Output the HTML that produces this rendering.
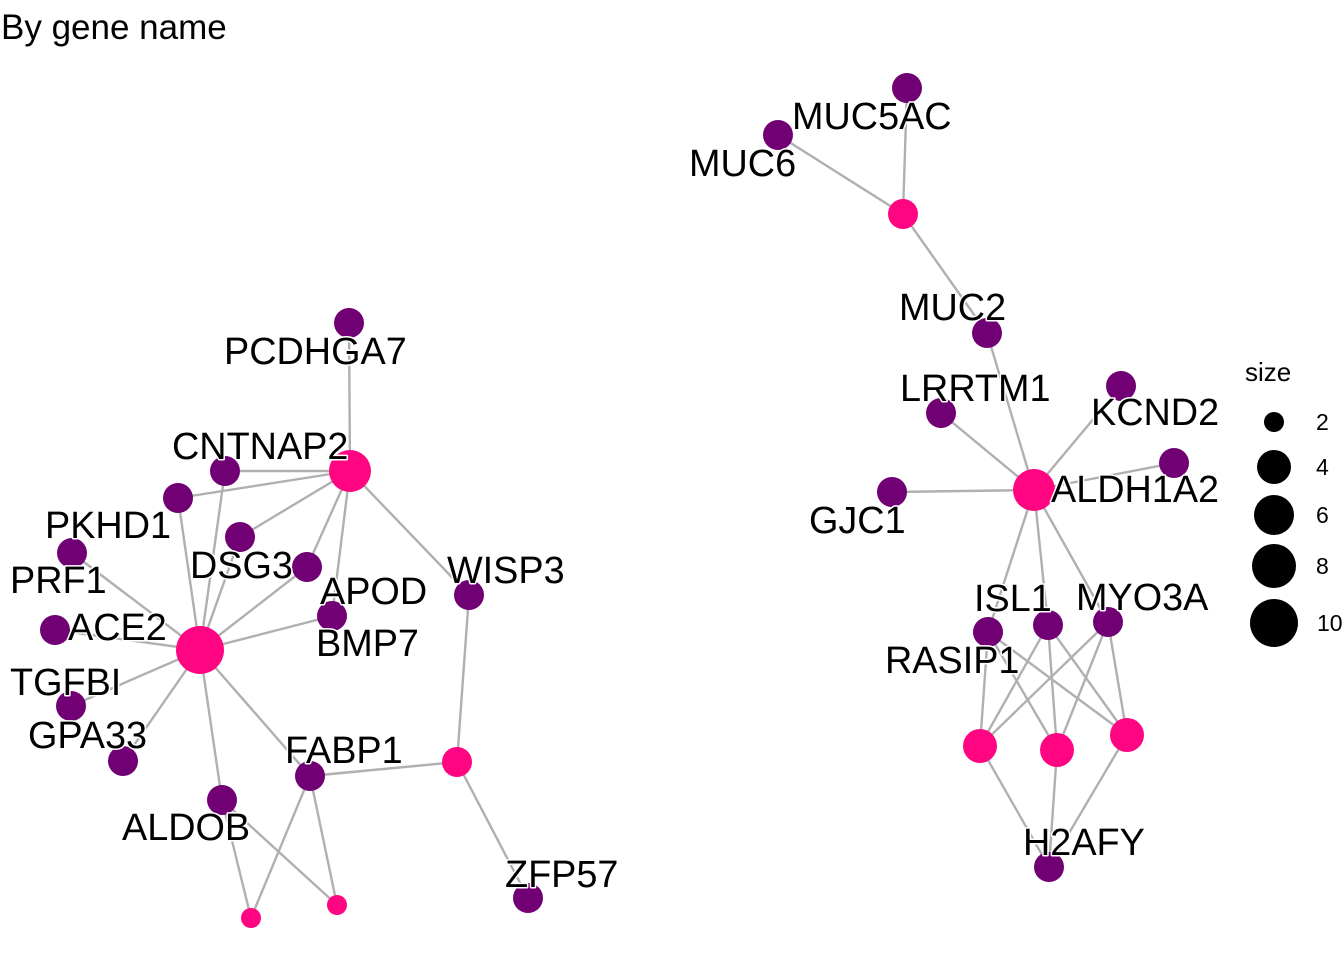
<!DOCTYPE html>
<html><head><meta charset="utf-8"><style>
html,body{margin:0;padding:0;background:#fff;}
svg{display:block;}
text{font-family:"Liberation Sans",Arial,sans-serif;}
.l{font-size:37.8px;fill:#000;stroke:#fff;stroke-width:3px;paint-order:stroke;stroke-linejoin:round;}
</style></head><body>
<svg width="1344" height="960" viewBox="0 0 1344 960" xmlns="http://www.w3.org/2000/svg">
<text x="1" y="39" font-size="35">By gene name</text>
<g stroke="#b0b0b0" stroke-width="2.4" fill="none">
<line x1="350" y1="471" x2="349" y2="323"/>
<line x1="350" y1="471" x2="225" y2="471"/>
<line x1="350" y1="471" x2="178" y2="498"/>
<line x1="350" y1="471" x2="240" y2="537"/>
<line x1="350" y1="471" x2="307" y2="567"/>
<line x1="350" y1="471" x2="332" y2="616"/>
<line x1="350" y1="471" x2="469" y2="595"/>
<line x1="200" y1="650" x2="178" y2="498"/>
<line x1="200" y1="650" x2="225" y2="471"/>
<line x1="200" y1="650" x2="240" y2="537"/>
<line x1="200" y1="650" x2="307" y2="567"/>
<line x1="200" y1="650" x2="332" y2="616"/>
<line x1="200" y1="650" x2="72" y2="553"/>
<line x1="200" y1="650" x2="55" y2="630"/>
<line x1="200" y1="650" x2="71" y2="706"/>
<line x1="200" y1="650" x2="123" y2="761"/>
<line x1="200" y1="650" x2="222" y2="800"/>
<line x1="200" y1="650" x2="310" y2="776"/>
<line x1="310" y1="776" x2="457" y2="762"/>
<line x1="457" y1="762" x2="469" y2="595"/>
<line x1="457" y1="762" x2="528" y2="898"/>
<line x1="310" y1="776" x2="251" y2="918"/>
<line x1="310" y1="776" x2="337" y2="905"/>
<line x1="222" y1="800" x2="251" y2="918"/>
<line x1="222" y1="800" x2="337" y2="905"/>
<line x1="903" y1="214" x2="907" y2="88"/>
<line x1="903" y1="214" x2="778" y2="135"/>
<line x1="903" y1="214" x2="987" y2="333"/>
<line x1="1034" y1="490" x2="987" y2="333"/>
<line x1="1034" y1="490" x2="941" y2="413"/>
<line x1="1034" y1="490" x2="1121" y2="386"/>
<line x1="1034" y1="490" x2="1174" y2="463"/>
<line x1="1034" y1="490" x2="892" y2="492"/>
<line x1="1034" y1="490" x2="988" y2="632"/>
<line x1="1034" y1="490" x2="1048" y2="625"/>
<line x1="1034" y1="490" x2="1108" y2="622"/>
<line x1="988" y1="632" x2="980" y2="746"/>
<line x1="988" y1="632" x2="1057" y2="750"/>
<line x1="988" y1="632" x2="1127" y2="735"/>
<line x1="1048" y1="625" x2="980" y2="746"/>
<line x1="1048" y1="625" x2="1057" y2="750"/>
<line x1="1048" y1="625" x2="1127" y2="735"/>
<line x1="1108" y1="622" x2="980" y2="746"/>
<line x1="1108" y1="622" x2="1057" y2="750"/>
<line x1="1108" y1="622" x2="1127" y2="735"/>
<line x1="1049" y1="867" x2="980" y2="746"/>
<line x1="1049" y1="867" x2="1057" y2="750"/>
<line x1="1049" y1="867" x2="1127" y2="735"/>
</g>
<g fill="#710074">
<circle cx="349" cy="323" r="15"/>
<circle cx="225" cy="471" r="15"/>
<circle cx="178" cy="498" r="15"/>
<circle cx="240" cy="537" r="15"/>
<circle cx="307" cy="567" r="15"/>
<circle cx="332" cy="616" r="15"/>
<circle cx="72" cy="553" r="15"/>
<circle cx="55" cy="630" r="15"/>
<circle cx="71" cy="706" r="15"/>
<circle cx="123" cy="761" r="15"/>
<circle cx="222" cy="800" r="15"/>
<circle cx="310" cy="776" r="15"/>
<circle cx="469" cy="595" r="15"/>
<circle cx="528" cy="898" r="15"/>
<circle cx="907" cy="88" r="15"/>
<circle cx="778" cy="135" r="15"/>
<circle cx="987" cy="333" r="15"/>
<circle cx="941" cy="413" r="15"/>
<circle cx="1121" cy="386" r="15"/>
<circle cx="1174" cy="463" r="15"/>
<circle cx="892" cy="492" r="15"/>
<circle cx="988" cy="632" r="15"/>
<circle cx="1048" cy="625" r="15"/>
<circle cx="1108" cy="622" r="15"/>
<circle cx="1049" cy="867" r="15"/>
</g>
<g fill="#ff0582">
<circle cx="200" cy="650" r="24"/>
<circle cx="350" cy="471" r="21"/>
<circle cx="457" cy="762" r="15"/>
<circle cx="251" cy="918" r="10"/>
<circle cx="337" cy="905" r="10"/>
<circle cx="903" cy="214" r="15"/>
<circle cx="1034" cy="490" r="21"/>
<circle cx="980" cy="746" r="17"/>
<circle cx="1057" cy="750" r="17"/>
<circle cx="1127" cy="735" r="17"/>
</g>
<g class="l">
<text x="224" y="364">PCDHGA7</text>
<text x="172" y="459">CNTNAP2</text>
<text x="45" y="538">PKHD1</text>
<text x="190" y="578">DSG3</text>
<text x="10" y="593">PRF1</text>
<text x="320" y="604">APOD</text>
<text x="447" y="583">WISP3</text>
<text x="68" y="640">ACE2</text>
<text x="316" y="656">BMP7</text>
<text x="10" y="695">TGFBI</text>
<text x="28" y="748">GPA33</text>
<text x="285" y="763">FABP1</text>
<text x="122" y="840">ALDOB</text>
<text x="505" y="887">ZFP57</text>
<text x="792" y="129">MUC5AC</text>
<text x="689" y="176">MUC6</text>
<text x="899" y="320">MUC2</text>
<text x="900" y="401">LRRTM1</text>
<text x="1091" y="425">KCND2</text>
<text x="1051" y="502">ALDH1A2</text>
<text x="809" y="533">GJC1</text>
<text x="974" y="611">ISL1</text>
<text x="1076" y="610">MYO3A</text>
<text x="885" y="673">RASIP1</text>
<text x="1023" y="855">H2AFY</text>
</g>
<text x="1245" y="381" font-size="26">size</text>
<g fill="#000">
<circle cx="1274" cy="422" r="10"/>
<circle cx="1274" cy="467" r="17"/>
<circle cx="1274" cy="515" r="20"/>
<circle cx="1274" cy="566" r="22"/>
<circle cx="1274" cy="623" r="24"/>
</g>
<g font-size="23">
<text x="1316" y="430">2</text>
<text x="1316" y="475">4</text>
<text x="1316" y="523">6</text>
<text x="1316" y="574">8</text>
<text x="1317" y="631">10</text>
</g>
</svg>
</body></html>
